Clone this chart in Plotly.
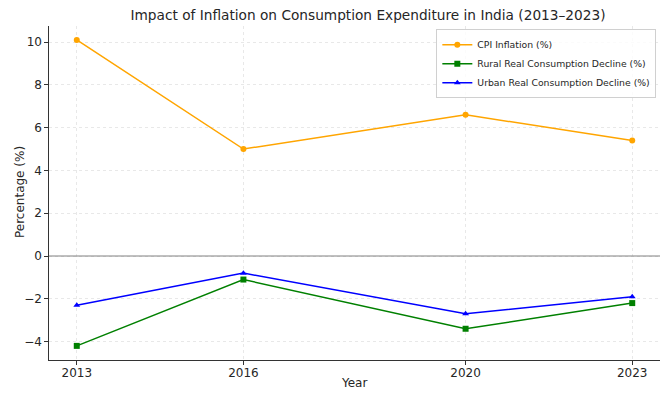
import plotly.graph_objects as go

years = [2013, 2016, 2020, 2023]
cpi_inflation = [10.1, 5.0, 6.6, 5.4]
rural_decline = [-4.2, -1.1, -3.4, -2.2]
urban_decline = [-2.3, -0.8, -2.7, -1.9]
y_ticks = [-4, -2, 0, 2, 4, 6, 8, 10]

fig = go.Figure()
fig.add_trace(go.Scatter(x=years, y=cpi_inflation, mode="lines+markers", name="CPI Inflation (%)",
                         line=dict(color="orange", width=1.5), marker=dict(symbol="circle", size=6)))
fig.add_trace(go.Scatter(x=years, y=rural_decline, mode="lines+markers", name="Rural Real Consumption Decline (%)",
                         line=dict(color="green", width=1.5), marker=dict(symbol="square", size=6)))
fig.add_trace(go.Scatter(x=years, y=urban_decline, mode="lines+markers", name="Urban Real Consumption Decline (%)",
                         line=dict(color="blue", width=1.5), marker=dict(symbol="triangle-up", size=6)))

fig.add_hline(y=0, line=dict(color="gray", width=1))

L, R, T, B = 49, 8, 26, 33
W, H = 668, 393
ph = H - T - B
pw = W - L - R

fig.update_layout(
    width=W, height=H,
    margin=dict(l=L, r=R, t=T, b=B, autoexpand=False),
    paper_bgcolor="white", plot_bgcolor="white",
    font=dict(family="DejaVu Sans", size=12, color="#262626"),
    title=dict(text="Impact of Inflation on Consumption Expenditure in India (2013–2023)",
               x=368/668, xref="container", xanchor="center", y=1 - 15/393, yref="container",
               yanchor="middle", font=dict(size=13.7)),
    xaxis=dict(range=[2012.5, 2023.5],
               tickvals=years, ticktext=[str(y) for y in years], automargin=False,
               showgrid=True, gridcolor="#e8e8e8", griddash="dot", gridwidth=1,
               showline=True, linecolor="#333", linewidth=1.2, ticks="outside", ticklen=3.5,
               tickcolor="#333", zeroline=False, tickfont=dict(size=12), ticklabelstandoff=-2),
    yaxis=dict(range=[-4.86, 10.75],
               tickvals=y_ticks, showgrid=True, gridcolor="#e8e8e8", griddash="dot", gridwidth=1,
               automargin=False,
               showline=True, linecolor="#333", linewidth=1.2, ticks="outside", ticklen=3.5,
               tickcolor="#333", zeroline=False, tickfont=dict(size=12)),
    legend=dict(x=0.994, y=0.99, xanchor="right", yanchor="top", bgcolor="rgba(255,255,255,0.8)",
                bordercolor="#d0d0d0", borderwidth=1, font=dict(size=9.3), tracegroupgap=0,
                itemwidth=30),
    showlegend=True,
    annotations=[
        dict(text="Year", xref="paper", yref="paper", x=(354 - L) / pw, y=-(383 - (H - B)) / ph,
             xanchor="center", yanchor="middle", showarrow=False, font=dict(size=12)),
        dict(text="Percentage (%)", xref="paper", yref="paper", x=(20 - L) / pw, y=(H - B - 192) / ph,
             xanchor="center", yanchor="middle", textangle=-90, showarrow=False, font=dict(size=12)),
    ],
)

fig.write_html("out.html", config={"displayModeBar": False},
               post_script="document.body.style.margin='0';document.body.style.padding='0';")
